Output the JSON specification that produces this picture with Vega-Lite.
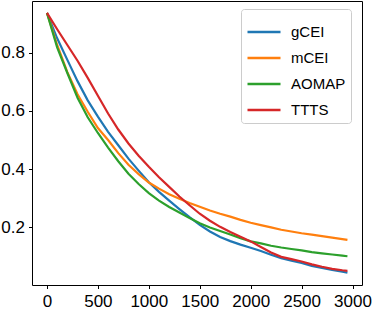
{
  "$schema": "https://vega.github.io/schema/vega-lite/v6.json",
  "width": 330,
  "height": 284,
  "autosize": {"type": "none"},
  "padding": {"left": 32, "top": 1, "right": 12, "bottom": 25},
  "background": "white",
  "config": {
    "view": {"stroke": "black", "strokeWidth": 1},
    "font": "Liberation Sans",
    "axis": {
      "grid": false,
      "domain": false,
      "tickColor": "black",
      "tickSize": 3.5,
      "labelColor": "black",
      "labelFont": "Liberation Sans",
      "labelFontSize": 17,
      "title": null,
      "labelFlush": false
    }
  },
  "data": {
    "values": [
      {"m":"gCEI","x":0,"y":0.936},{"m":"gCEI","x":100,"y":0.849},{"m":"gCEI","x":200,"y":0.775},{"m":"gCEI","x":300,"y":0.702},{"m":"gCEI","x":400,"y":0.636},{"m":"gCEI","x":500,"y":0.580},{"m":"gCEI","x":600,"y":0.528},{"m":"gCEI","x":700,"y":0.482},{"m":"gCEI","x":800,"y":0.436},{"m":"gCEI","x":900,"y":0.395},{"m":"gCEI","x":1000,"y":0.355},{"m":"gCEI","x":1100,"y":0.322},{"m":"gCEI","x":1200,"y":0.292},{"m":"gCEI","x":1300,"y":0.263},{"m":"gCEI","x":1400,"y":0.235},{"m":"gCEI","x":1500,"y":0.209},{"m":"gCEI","x":1600,"y":0.186},{"m":"gCEI","x":1700,"y":0.167},{"m":"gCEI","x":1800,"y":0.153},{"m":"gCEI","x":1900,"y":0.141},{"m":"gCEI","x":2000,"y":0.130},{"m":"gCEI","x":2100,"y":0.119},{"m":"gCEI","x":2200,"y":0.106},{"m":"gCEI","x":2300,"y":0.094},{"m":"gCEI","x":2400,"y":0.086},{"m":"gCEI","x":2500,"y":0.078},{"m":"gCEI","x":2600,"y":0.068},{"m":"gCEI","x":2700,"y":0.061},{"m":"gCEI","x":2800,"y":0.054},{"m":"gCEI","x":2900,"y":0.048},{"m":"gCEI","x":2950,"y":0.045},
      {"m":"mCEI","x":0,"y":0.936},{"m":"mCEI","x":100,"y":0.826},{"m":"mCEI","x":200,"y":0.733},{"m":"mCEI","x":300,"y":0.657},{"m":"mCEI","x":400,"y":0.597},{"m":"mCEI","x":500,"y":0.541},{"m":"mCEI","x":600,"y":0.500},{"m":"mCEI","x":700,"y":0.455},{"m":"mCEI","x":800,"y":0.415},{"m":"mCEI","x":900,"y":0.383},{"m":"mCEI","x":1000,"y":0.354},{"m":"mCEI","x":1100,"y":0.333},{"m":"mCEI","x":1200,"y":0.314},{"m":"mCEI","x":1300,"y":0.298},{"m":"mCEI","x":1400,"y":0.284},{"m":"mCEI","x":1500,"y":0.271},{"m":"mCEI","x":1600,"y":0.258},{"m":"mCEI","x":1700,"y":0.247},{"m":"mCEI","x":1800,"y":0.237},{"m":"mCEI","x":1900,"y":0.226},{"m":"mCEI","x":2000,"y":0.216},{"m":"mCEI","x":2100,"y":0.208},{"m":"mCEI","x":2200,"y":0.200},{"m":"mCEI","x":2300,"y":0.192},{"m":"mCEI","x":2400,"y":0.186},{"m":"mCEI","x":2500,"y":0.180},{"m":"mCEI","x":2600,"y":0.175},{"m":"mCEI","x":2700,"y":0.170},{"m":"mCEI","x":2800,"y":0.165},{"m":"mCEI","x":2900,"y":0.160},{"m":"mCEI","x":2950,"y":0.157},
      {"m":"AOMAP","x":0,"y":0.936},{"m":"AOMAP","x":100,"y":0.818},{"m":"AOMAP","x":200,"y":0.730},{"m":"AOMAP","x":300,"y":0.645},{"m":"AOMAP","x":400,"y":0.578},{"m":"AOMAP","x":500,"y":0.524},{"m":"AOMAP","x":600,"y":0.474},{"m":"AOMAP","x":700,"y":0.427},{"m":"AOMAP","x":800,"y":0.384},{"m":"AOMAP","x":900,"y":0.349},{"m":"AOMAP","x":1000,"y":0.318},{"m":"AOMAP","x":1100,"y":0.292},{"m":"AOMAP","x":1200,"y":0.270},{"m":"AOMAP","x":1300,"y":0.251},{"m":"AOMAP","x":1400,"y":0.232},{"m":"AOMAP","x":1500,"y":0.214},{"m":"AOMAP","x":1600,"y":0.200},{"m":"AOMAP","x":1700,"y":0.188},{"m":"AOMAP","x":1800,"y":0.176},{"m":"AOMAP","x":1900,"y":0.163},{"m":"AOMAP","x":2000,"y":0.152},{"m":"AOMAP","x":2100,"y":0.145},{"m":"AOMAP","x":2200,"y":0.137},{"m":"AOMAP","x":2300,"y":0.131},{"m":"AOMAP","x":2400,"y":0.126},{"m":"AOMAP","x":2500,"y":0.121},{"m":"AOMAP","x":2600,"y":0.115},{"m":"AOMAP","x":2700,"y":0.111},{"m":"AOMAP","x":2800,"y":0.107},{"m":"AOMAP","x":2900,"y":0.103},{"m":"AOMAP","x":2950,"y":0.101},
      {"m":"TTTS","x":0,"y":0.936},{"m":"TTTS","x":100,"y":0.880},{"m":"TTTS","x":200,"y":0.826},{"m":"TTTS","x":300,"y":0.772},{"m":"TTTS","x":400,"y":0.713},{"m":"TTTS","x":500,"y":0.652},{"m":"TTTS","x":600,"y":0.591},{"m":"TTTS","x":700,"y":0.536},{"m":"TTTS","x":800,"y":0.488},{"m":"TTTS","x":900,"y":0.446},{"m":"TTTS","x":1000,"y":0.408},{"m":"TTTS","x":1100,"y":0.372},{"m":"TTTS","x":1200,"y":0.339},{"m":"TTTS","x":1300,"y":0.306},{"m":"TTTS","x":1400,"y":0.276},{"m":"TTTS","x":1500,"y":0.247},{"m":"TTTS","x":1600,"y":0.223},{"m":"TTTS","x":1700,"y":0.202},{"m":"TTTS","x":1800,"y":0.184},{"m":"TTTS","x":1900,"y":0.168},{"m":"TTTS","x":2000,"y":0.152},{"m":"TTTS","x":2100,"y":0.133},{"m":"TTTS","x":2200,"y":0.114},{"m":"TTTS","x":2300,"y":0.099},{"m":"TTTS","x":2400,"y":0.091},{"m":"TTTS","x":2500,"y":0.083},{"m":"TTTS","x":2600,"y":0.073},{"m":"TTTS","x":2700,"y":0.065},{"m":"TTTS","x":2800,"y":0.058},{"m":"TTTS","x":2900,"y":0.053},{"m":"TTTS","x":2950,"y":0.051}
    ]
  },
  "mark": {"type": "line", "strokeWidth": 2.2, "interpolate": "linear"},
  "encoding": {
    "x": {
      "field": "x", "type": "quantitative",
      "scale": {"domain": [-147, 3093], "nice": false, "zero": false},
      "axis": {"values": [0, 500, 1000, 1500, 2000, 2500, 3000], "format": "d", "labelPadding": 5}
    },
    "y": {
      "field": "y", "type": "quantitative",
      "scale": {"domain": [0.0024, 0.977], "nice": false, "zero": false},
      "axis": {"values": [0.2, 0.4, 0.6, 0.8], "format": ".1f", "labelPadding": 4}
    },
    "color": {
      "field": "m", "type": "nominal",
      "scale": {"domain": ["gCEI", "mCEI", "AOMAP", "TTTS"], "range": ["#1f77b4", "#ff7f0e", "#2ca02c", "#d62728"]},
      "legend": {
        "title": null,
        "orient": "none",
        "legendX": 209,
        "legendY": 8,
        "symbolType": "stroke",
        "symbolSize": 1089,
        "symbolStrokeWidth": 2.5,
        "labelFont": "Liberation Sans",
        "labelFontSize": 15,
        "labelColor": "black",
        "labelOffset": 9,
        "rowPadding": -2,
        "padding": 5,
        "fillColor": "white",
        "strokeColor": "#cccccc",
        "cornerRadius": 3
      }
    }
  }
}
